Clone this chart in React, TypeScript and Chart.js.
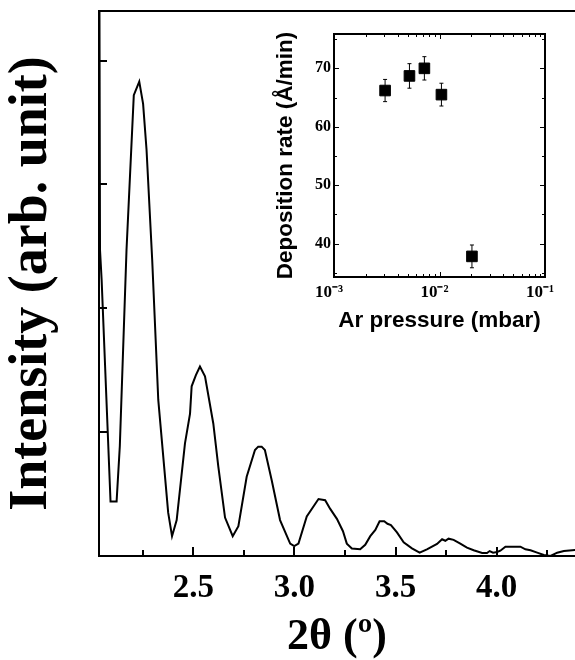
import React, { useEffect, useRef } from 'react';
import { Chart, registerables } from 'chart.js';

Chart.register(...registerables);

// ---- Main XRR curve ----
const TWO_THETA = [
  2.036, 2.039, 2.047, 2.091, 2.121, 2.137, 2.170, 2.206, 2.233, 2.252, 2.269, 2.297, 2.327, 2.376, 2.395,
  2.418, 2.459, 2.484, 2.492, 2.513, 2.533, 2.558, 2.599, 2.624, 2.657, 2.695, 2.723, 2.764, 2.805, 2.821,
  2.838, 2.854, 2.888, 2.929, 2.979, 2.999, 3.020, 3.061, 3.119, 3.152, 3.177, 3.210, 3.240, 3.259, 3.284,
  3.325, 3.350, 3.375, 3.400, 3.421, 3.444, 3.460, 3.477, 3.507, 3.540, 3.581, 3.619, 3.655, 3.705, 3.730,
  3.746, 3.762, 3.787, 3.820, 3.853, 3.886, 3.928, 3.952, 3.965, 3.982, 4.002, 4.018, 4.043, 4.117, 4.142,
  4.167, 4.200, 4.233, 4.266, 4.299, 4.332, 4.390,
];
const INTENSITY = [
  4.60, 2.47, 2.23, 0.44, 0.44, 0.89, 2.47, 3.72, 3.83, 3.65, 3.28, 2.39, 1.26, 0.35, 0.16,
  0.29, 0.91, 1.15, 1.37, 1.46, 1.53, 1.45, 1.07, 0.72, 0.31, 0.16, 0.24, 0.64, 0.856, 0.883,
  0.883, 0.856, 0.61, 0.29, 0.10, 0.08, 0.10, 0.32, 0.46, 0.45, 0.38, 0.30, 0.20, 0.10, 0.06,
  0.054, 0.09, 0.16, 0.21, 0.28, 0.28, 0.26, 0.25, 0.19, 0.11, 0.062, 0.027, 0.054, 0.097, 0.135,
  0.123, 0.14, 0.13, 0.10, 0.067, 0.046, 0.024, 0.024, 0.04, 0.027, 0.032, 0.043, 0.075, 0.075, 0.054,
  0.046, 0.027, 0.008, 0.0, 0.027, 0.04, 0.048,
];
const X_MIN = 2.034;
const X_MAX = 4.387;
const Y_MAX = 4.4;
const X_TICKS = [2.5, 3.0, 3.5, 4.0];
const X_MINOR = [2.25, 2.75, 3.25, 3.75, 4.25];
const Y_TICKS = [1, 2, 3, 4];

// ---- Inset: deposition rate vs Ar pressure ----
const AR_PRESSURE = [0.00305, 0.00519, 0.00719, 0.01043, 0.0203];
const DEP_RATE = [66.2, 68.7, 70.0, 65.5, 37.8];
const DEP_ERR = [1.9, 2.1, 2.0, 1.95, 1.95];
const INSET_Y_MIN = 34.27;
const INSET_Y_MAX = 75.88;
const INSET_Y_TICKS = [40, 50, 60, 70];
const INSET_Y_MINOR = [35, 45, 55, 65, 75];
const INSET_X_TICKS = [0.001, 0.01, 0.1];
const INSET_X_LABELS = ['10⁻³', '10⁻²', '10⁻¹'];
const INSET_X_MINOR = [
  0.002, 0.003, 0.004, 0.005, 0.006, 0.007, 0.008, 0.009,
  0.02, 0.03, 0.04, 0.05, 0.06, 0.07, 0.08, 0.09,
];

const SERIF = "'Liberation Serif', 'Times New Roman', serif";
const SANS = "'Liberation Sans', Arial, sans-serif";

function seg(ctx: CanvasRenderingContext2D, x1: number, y1: number, x2: number, y2: number) {
  ctx.beginPath();
  ctx.moveTo(x1, y1);
  ctx.lineTo(x2, y2);
  ctx.stroke();
}

const mainFramePlugin = {
  id: 'mainFrame',
  afterDraw(chart: any) {
    const { ctx, chartArea: a, scales } = chart;
    const x = scales.x;
    const y = scales.y;
    ctx.save();
    ctx.strokeStyle = '#000';
    ctx.lineWidth = 2;
    seg(ctx, a.left - 1, a.top, a.right, a.top);
    X_TICKS.forEach((v) => {
      const px = Math.round(x.getPixelForValue(v));
      seg(ctx, px, a.bottom, px, a.bottom - 9);
    });
    X_MINOR.forEach((v) => {
      const px = Math.round(x.getPixelForValue(v));
      seg(ctx, px, a.bottom, px, a.bottom - 6);
    });
    Y_TICKS.forEach((v) => {
      const py = Math.round(y.getPixelForValue(v));
      seg(ctx, a.left, py, a.left + 8, py);
    });
    ctx.restore();
  },
};

const insetPlugin = {
  id: 'insetFrame',
  beforeDatasetsDraw(chart: any) {
    const { ctx, scales } = chart;
    const x = scales.x;
    const y = scales.y;
    ctx.save();
    ctx.strokeStyle = '#000';
    ctx.lineWidth = 1;
    AR_PRESSURE.forEach((p, i) => {
      const px = x.getPixelForValue(p);
      const top = y.getPixelForValue(DEP_RATE[i] + DEP_ERR[i]);
      const bot = y.getPixelForValue(DEP_RATE[i] - DEP_ERR[i]);
      seg(ctx, px, top, px, bot);
      seg(ctx, px - 2, top, px + 2, top);
      seg(ctx, px - 2, bot, px + 2, bot);
    });
    ctx.restore();
  },
  afterDraw(chart: any) {
    const { ctx, chartArea: a, scales } = chart;
    const x = scales.x;
    const y = scales.y;
    ctx.save();
    ctx.strokeStyle = '#000';
    ctx.lineWidth = 2;
    ctx.strokeRect(a.left, a.top, a.right - a.left, a.bottom - a.top);
    ctx.lineWidth = 1;
    INSET_X_TICKS.forEach((v) => {
      const px = Math.round(x.getPixelForValue(v)) + 0.5;
      seg(ctx, px, a.bottom, px, a.bottom - 5);
      seg(ctx, px, a.top, px, a.top + 5);
    });
    INSET_X_MINOR.forEach((v) => {
      const px = Math.round(x.getPixelForValue(v)) + 0.5;
      seg(ctx, px, a.bottom, px, a.bottom - 3);
      seg(ctx, px, a.top, px, a.top + 3);
    });
    INSET_Y_TICKS.forEach((v) => {
      const py = Math.round(y.getPixelForValue(v)) + 0.5;
      seg(ctx, a.left, py, a.left + 5, py);
      seg(ctx, a.right, py, a.right - 5, py);
    });
    INSET_Y_MINOR.forEach((v) => {
      const py = Math.round(y.getPixelForValue(v)) + 0.5;
      seg(ctx, a.left, py, a.left + 3, py);
      seg(ctx, a.right, py, a.right - 3, py);
    });
    ctx.restore();
  },
};

export default function App() {
  const mainRef = useRef<HTMLCanvasElement | null>(null);
  const insetRef = useRef<HTMLCanvasElement | null>(null);

  useEffect(() => {
    const mainChart = new Chart(mainRef.current as HTMLCanvasElement, {
      type: 'line',
      data: {
        datasets: [
          {
            data: TWO_THETA.map((t, i) => ({ x: t, y: INTENSITY[i] })),
            borderColor: '#000',
            borderWidth: 2,
            pointRadius: 0,
            tension: 0,
            fill: false,
          },
        ],
      },
      options: {
        animation: false,
        responsive: false,
        devicePixelRatio: 1,
        layout: { padding: { top: 11, right: 0, left: 0, bottom: 0 } },
        plugins: { legend: { display: false }, tooltip: { enabled: false } },
        scales: {
          x: {
            type: 'linear',
            min: X_MIN,
            max: X_MAX,
            afterBuildTicks: (s: any) => {
              s.ticks = X_TICKS.map((v) => ({ value: v }));
            },
            afterFit: (s: any) => {
              s.height = 104;
            },
            grid: { display: false, drawTicks: false },
            border: { display: true, color: '#000', width: 2 },
            ticks: {
              color: '#000',
              padding: 13,
              maxRotation: 0,
              autoSkip: false,
              font: { family: SERIF, size: 33, weight: 'bold' },
              callback: (v: any) => Number(v).toFixed(1),
            },
            title: {
              display: true,
              text: '2θ (º)',
              color: '#000',
              font: { family: SERIF, size: 44, weight: 'bold', lineHeight: 1 },
              padding: { top: 0, bottom: 0 },
            },
          },
          y: {
            type: 'linear',
            min: 0,
            max: Y_MAX,
            afterBuildTicks: (s: any) => {
              s.ticks = Y_TICKS.map((v) => ({ value: v }));
            },
            afterFit: (s: any) => {
              s.width = 99;
            },
            grid: { display: false, drawTicks: false },
            border: { display: true, color: '#000', width: 2 },
            ticks: { display: false },
            title: {
              display: true,
              text: 'Intensity (arb. unit)',
              color: '#000',
              font: { family: SERIF, size: 54, weight: 'bold', lineHeight: 1 },
              padding: { top: 5, bottom: 0 },
            },
          },
        },
      } as any,
      plugins: [mainFramePlugin],
    });

    const insetChart = new Chart(insetRef.current as HTMLCanvasElement, {
      type: 'scatter',
      data: {
        datasets: [
          {
            data: AR_PRESSURE.map((p, i) => ({ x: p, y: DEP_RATE[i] })),
            pointStyle: 'rect',
            pointRadius: 7.5,
            backgroundColor: '#000',
            borderColor: '#000',
            borderWidth: 1,
          },
        ],
      },
      options: {
        animation: false,
        responsive: false,
        devicePixelRatio: 1,
        layout: { padding: { top: 14, right: 25, left: 0, bottom: 0 } },
        plugins: { legend: { display: false }, tooltip: { enabled: false } },
        scales: {
          x: {
            type: 'logarithmic',
            min: 0.001,
            max: 0.1,
            afterBuildTicks: (s: any) => {
              s.ticks = INSET_X_TICKS.map((v) => ({ value: v }));
            },
            afterFit: (s: any) => {
              s.height = 83;
            },
            grid: { display: false, drawTicks: false },
            border: { display: false },
            ticks: {
              color: '#000',
              padding: 5,
              labelOffset: -5,
              maxRotation: 0,
              autoSkip: false,
              font: { family: SERIF, size: 17, weight: 'bold' },
              callback: (_v: any, i: number) => INSET_X_LABELS[i],
            },
            title: {
              display: true,
              text: 'Ar pressure (mbar)',
              color: '#000',
              font: { family: SANS, size: 22.5, weight: 'bold', lineHeight: 1.2 },
              padding: { top: 0, bottom: 25.5 },
            },
          },
          y: {
            type: 'linear',
            min: INSET_Y_MIN,
            max: INSET_Y_MAX,
            afterBuildTicks: (s: any) => {
              s.ticks = INSET_Y_TICKS.map((v) => ({ value: v }));
            },
            afterFit: (s: any) => {
              s.width = 84;
            },
            grid: { display: false, drawTicks: false },
            border: { display: false },
            ticks: {
              color: '#000',
              padding: 3,
              font: { family: SERIF, size: 16, weight: 'bold' },
            },
            title: {
              display: true,
              text: 'Deposition rate (Å/min)',
              color: '#000',
              font: { family: SANS, size: 22.5, weight: 'bold', lineHeight: 1.2 },
              padding: { top: 22, bottom: 0 },
            },
          },
        },
      } as any,
      plugins: [insetPlugin],
    });

    return () => {
      mainChart.destroy();
      insetChart.destroy();
    };
  }, []);

  return (
    <div style={{ position: 'fixed', left: 0, top: 0, width: 575, height: 660, background: '#fff' }}>
      <canvas
        ref={mainRef}
        width={575}
        height={660}
        style={{ position: 'absolute', left: 0, top: 0, width: 575, height: 660 }}
      />
      <canvas
        ref={insetRef}
        width={320}
        height={340}
        style={{ position: 'absolute', left: 250, top: 20, width: 320, height: 340 }}
      />
    </div>
  );
}
